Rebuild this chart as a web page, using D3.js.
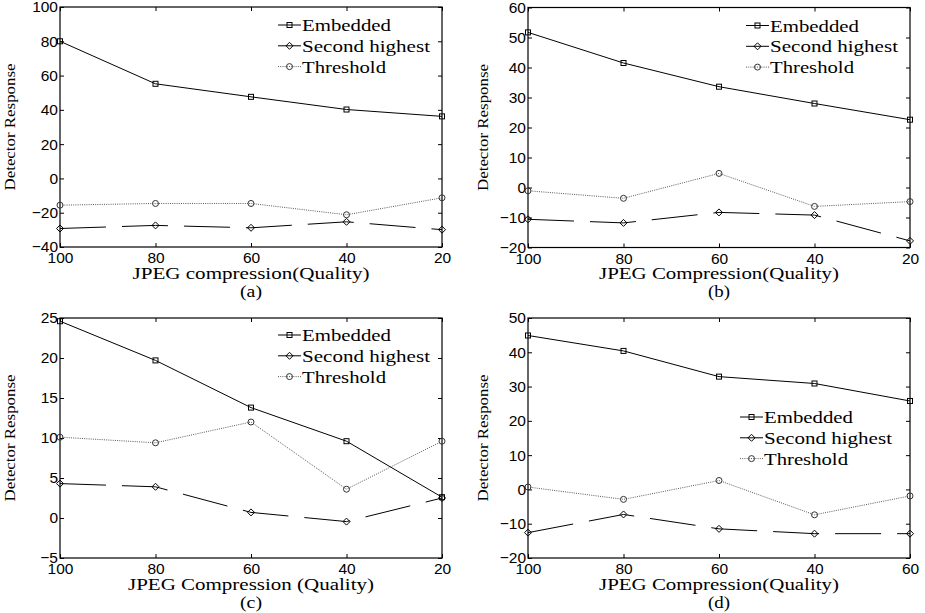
<!DOCTYPE html>
<html>
<head>
<meta charset="utf-8">
<script src="https://cdn.jsdelivr.net/npm/d3@7"></script>
<style>
    body { margin: 0; background: #fff; }
    svg { display: block; }
    .tick text { font-family: "Liberation Sans", Arial, sans-serif; font-size: 15.5px; fill: #000; }
    .serif { font-family: "Liberation Serif", "Times New Roman", serif; fill: #000; }
</style>
</head>
<body>
<svg id="chart" width="925" height="613"></svg>
<script>
(function () {
    'use strict';

    // x categories (quality levels), one label list per panel
    var qualityLabels = ["100", "80", "60", "40", "20"];
    var qualityLabelsD = ["100", "80", "60", "40", "60"];

    // panel (a)
    var embeddedA = [80, 55.2, 47.6, 40.2, 36.2];
    var secondA = [-29.2, -27.4, -28.8, -25.3, -29.9];
    var thresholdA = [-15.6, -14.6, -14.6, -21.2, -11.3];

    // panel (b)
    var embeddedB = [51.7, 41.5, 33.6, 28.0, 22.6];
    var secondB = [-10.6, -11.8, -8.3, -9.2, -17.8];
    var thresholdB = [-1.1, -3.6, 4.7, -6.3, -4.7];

    // panel (c)
    var embeddedC = [24.6, 19.7, 13.8, 9.6, 2.6];
    var secondC = [4.3, 3.9, 0.7, -0.45, 2.5];
    var thresholdC = [10.1, 9.4, 12.0, 3.6, 9.6];

    // panel (d)
    var embeddedD = [44.9, 40.4, 32.9, 30.9, 25.8];
    var secondD = [-12.6, -7.3, -11.5, -12.9, -12.9];
    var thresholdD = [0.7, -2.9, 2.6, -7.4, -1.9];

    var seriesNames = ["Embedded", "Second highest", "Threshold"];

    var panels = [
        { left: 60, top: 7, labels: qualityLabels, yDomain: [-40, 100], yStep: 20,
          data: [embeddedA, secondA, thresholdA], xTitle: "JPEG compression(Quality)", xTitleLen: 237,
          caption: "(a)", legendX: 218, legendY: 18, yLabelX: 15 },
        { left: 528, top: 7.5, labels: qualityLabels, yDomain: [-20, 60], yStep: 10,
          data: [embeddedB, secondB, thresholdB], xTitle: "JPEG Compression(Quality)", xTitleLen: 240,
          caption: "(b)", legendX: 218, legendY: 18, yLabelX: 488 },
        { left: 60, top: 318, labels: qualityLabels, yDomain: [-5, 25], yStep: 5,
          data: [embeddedC, secondC, thresholdC], xTitle: "JPEG Compression (Quality)", xTitleLen: 246,
          caption: "(c)", legendX: 218, legendY: 17, yLabelX: 15 },
        { left: 528, top: 318, labels: qualityLabelsD, yDomain: [-20, 50], yStep: 10,
          data: [embeddedD, secondD, thresholdD], xTitle: "JPEG Compression(Quality)", xTitleLen: 240,
          caption: "(d)", legendX: 212, legendY: 99, yLabelX: 488 }
    ];

    var plotW = 382, plotH = 240;
    var svg = d3.select("#chart");

    var styles = [
        { stroke: "#000", dash: null, marker: "square" },
        { stroke: "#000", dash: "46,16", marker: "diamond" },
        { stroke: "#5a5a5a", dash: "1,1.2", marker: "circle" }
    ];

    function drawMarker(g, type, x, y) {
        if (type === "square") {
            g.append("rect")
                .attr("x", x - 2.5).attr("y", y - 2.5)
                .attr("width", 5).attr("height", 5)
                .attr("fill", "none").attr("stroke", "#000").attr("stroke-width", 1);
        } else if (type === "diamond") {
            g.append("path")
                .attr("d", "M" + x + "," + (y - 3.5) + "L" + (x + 3.5) + "," + y + "L" + x + "," + (y + 3.5) + "L" + (x - 3.5) + "," + y + "Z")
                .attr("fill", "none").attr("stroke", "#000").attr("stroke-width", 1);
        } else {
            g.append("circle")
                .attr("cx", x).attr("cy", y).attr("r", 3)
                .attr("fill", "none").attr("stroke", "#333").attr("stroke-width", 1);
        }
    }

    panels.forEach(function (p) {
        var g = svg.append("g").attr("transform", "translate(" + p.left + "," + p.top + ")");

        var x = d3.scalePoint().domain(d3.range(p.labels.length)).range([0, plotW]);
        var y = d3.scaleLinear().domain(p.yDomain).range([plotH, 0]);
        var yTicks = d3.range(p.yDomain[0], p.yDomain[1] + 0.001, p.yStep);

        // box
        g.append("rect")
            .attr("width", plotW).attr("height", plotH)
            .attr("fill", "none").attr("stroke", "#000").attr("stroke-width", 1.2);

        // axes with inward ticks
        g.append("g")
            .attr("transform", "translate(0," + plotH + ")")
            .call(d3.axisBottom(x).tickSizeInner(-4).tickSizeOuter(0).tickPadding(5)
                .tickFormat(function (i) { return p.labels[i]; }))
            .call(function (a) { a.select(".domain").remove(); });

        g.append("g")
            .call(d3.axisTop(x).tickSizeInner(-4).tickSizeOuter(0).tickFormat(""))
            .call(function (a) { a.select(".domain").remove(); });

        g.append("g")
            .call(d3.axisLeft(y).tickValues(yTicks).tickSizeInner(-4).tickSizeOuter(0).tickPadding(2)
                .tickFormat(d3.format("d")))
            .call(function (a) { a.select(".domain").remove(); });

        g.append("g")
            .attr("transform", "translate(" + plotW + ",0)")
            .call(d3.axisRight(y).tickValues(yTicks).tickSizeInner(-4).tickSizeOuter(0).tickFormat(""))
            .call(function (a) { a.select(".domain").remove(); });

        // series
        p.data.forEach(function (vals, si) {
            var st = styles[si];
            var line = d3.line()
                .x(function (d, i) { return x(i); })
                .y(function (d) { return y(d); });
            g.append("path")
                .datum(vals)
                .attr("d", line)
                .attr("fill", "none")
                .attr("stroke", st.stroke)
                .attr("stroke-width", 1)
                .attr("stroke-dasharray", st.dash);
            vals.forEach(function (d, i) {
                drawMarker(g, st.marker, x(i), y(d));
            });
        });

        // legend
        var textLens = [89, 128, 84];
        seriesNames.forEach(function (name, si) {
            var st = styles[si];
            var ly = p.legendY + si * 20.8;
            var lg = g.append("g");
            lg.append("line")
                .attr("x1", p.legendX).attr("x2", p.legendX + 23)
                .attr("y1", ly).attr("y2", ly)
                .attr("stroke", st.stroke).attr("stroke-width", 1)
                .attr("stroke-dasharray", si === 2 ? st.dash : null);
            drawMarker(lg, st.marker, p.legendX + 11.5, ly);
            lg.append("text")
                .attr("class", "serif")
                .attr("x", p.legendX + 24)
                .attr("y", ly + 6)
                .attr("font-size", 17.5)
                .attr("textLength", textLens[si])
                .attr("lengthAdjust", "spacingAndGlyphs")
                .text(name);
        });

        // x title + caption
        g.append("text")
            .attr("class", "serif")
            .attr("x", plotW / 2).attr("y", plotH + 31.5)
            .attr("text-anchor", "middle")
            .attr("font-size", 17.5)
            .attr("textLength", p.xTitleLen)
            .attr("lengthAdjust", "spacingAndGlyphs")
            .text(p.xTitle);

        g.append("text")
            .attr("class", "serif")
            .attr("x", plotW / 2).attr("y", plotH + 49.5)
            .attr("text-anchor", "middle")
            .attr("font-size", 17)
            .attr("textLength", 22)
            .attr("lengthAdjust", "spacingAndGlyphs")
            .text(p.caption);

        // y title
        svg.append("text")
            .attr("class", "serif")
            .attr("transform", "translate(" + p.yLabelX + "," + (p.top + plotH / 2) + ") rotate(-90)")
            .attr("text-anchor", "middle")
            .attr("font-size", 15.5)
            .attr("textLength", 127)
            .attr("lengthAdjust", "spacingAndGlyphs")
            .text("Detector Response");
    });
})();
</script>
</body>
</html>
